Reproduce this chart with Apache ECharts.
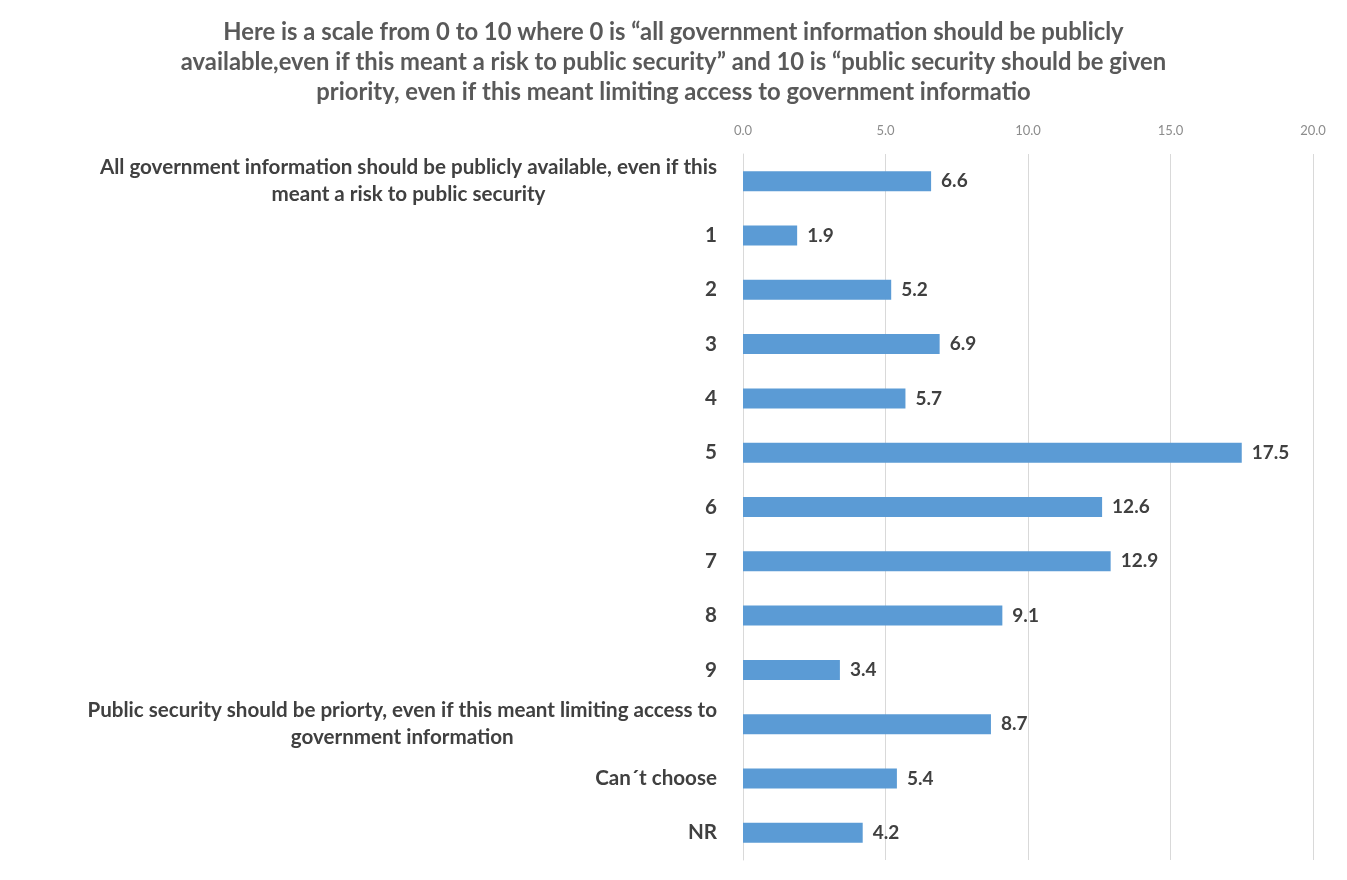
<!DOCTYPE html>
<html>
<head>
<meta charset="utf-8">
<script src="https://cdn.jsdelivr.net/npm/echarts@6/dist/echarts.min.js"></script>
<style>
  html, body { margin: 0; padding: 0; background: #fff; }
  #chart { width: 1347px; height: 880px; }
</style>
</head>
<body>
<div id="chart"></div>
<script>
// Survey answers on the 0–10 scale plus non-answers
const categories = [
  'All government information should be publicly available, even if this\nmeant a risk to public security',
  '1', '2', '3', '4', '5', '6', '7', '8', '9',
  'Public security should be priorty, even if this meant limiting access to\ngovernment information',
  'Can\u00b4t choose',
  'NR'
];
const values = [6.6, 1.9, 5.2, 6.9, 5.7, 17.5, 12.6, 12.9, 9.1, 3.4, 8.7, 5.4, 4.2];
const axisTicks = [0, 5, 10, 15, 20];

const titleText = 'Here is a scale from 0 to 10 where 0 is \u201call government information should be publicly\n' +
  'available,even if this meant a risk to public security\u201d and 10 is \u201cpublic security should be given\n' +
  'priority, even if this meant limiting access to government informatio';

const FONT = 'Lato, "Open Sans", sans-serif';

const chart = echarts.init(document.getElementById('chart'), null, { renderer: 'canvas' });

chart.setOption({
  backgroundColor: '#ffffff',
  animation: false,
  title: {
    text: titleText,
    left: 'center',
    top: 12,
    textStyle: {
      fontFamily: FONT,
      fontSize: 23.8,
      fontWeight: 'bold',
      color: '#595959',
      lineHeight: 30
    }
  },
  grid: {
    left: 743,
    right: 34,
    top: 154,
    bottom: 20,
    containLabel: false
  },
  xAxis: {
    type: 'value',
    position: 'top',
    min: axisTicks[0],
    max: axisTicks[axisTicks.length - 1],
    interval: 5,
    axisLine: { show: false },
    axisTick: { show: false },
    splitLine: { show: true, lineStyle: { color: '#d9d9d9', width: 1 } },
    axisLabel: {
      margin: 17,
      fontFamily: FONT,
      fontSize: 13,
      color: '#8c8c8c',
      formatter: v => v.toFixed(1)
    }
  },
  yAxis: {
    type: 'category',
    inverse: true,
    data: categories,
    axisLine: { show: true, lineStyle: { color: '#d9d9d9' } },
    axisTick: { show: false },
    axisLabel: {
      margin: 26,
      fontFamily: FONT,
      fontSize: 20.6,
      fontWeight: 'bold',
      color: '#404040',
      formatter: v => v.split('\n').map(s => '{c|' + s + '}').join('\n'),
      rich: {
        c: {
          fontFamily: FONT,
          fontSize: 20.6,
          fontWeight: 'bold',
          color: '#404040',
          align: 'center',
          lineHeight: 27
        }
      }
    }
  },
  series: [{
    type: 'bar',
    data: values,
    barWidth: 20,
    itemStyle: { color: '#5b9bd5' },
    label: {
      show: true,
      position: 'right',
      distance: 10,
      fontFamily: FONT,
      fontSize: 19,
      fontWeight: 'bold',
      color: '#404040',
      formatter: p => p.value.toFixed(1)
    }
  }]
});
</script>
</body>
</html>
